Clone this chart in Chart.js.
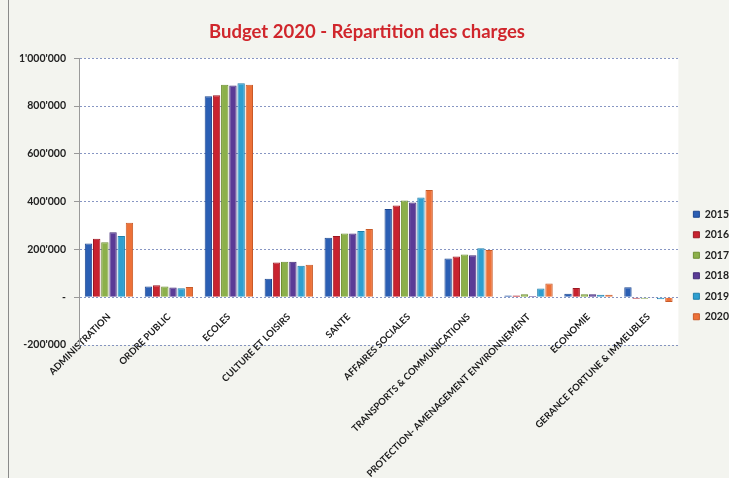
<!DOCTYPE html>
<html lang="fr">
<head>
<meta charset="utf-8">
<title>Budget 2020 - Répartition des charges</title>
<script src="https://cdn.jsdelivr.net/npm/chart.js@4.4.1/dist/chart.umd.min.js"></script>
<style>
    html, body {
        margin: 0;
        padding: 0;
        background: #f3f4ef;
    }
    .chart-container {
        position: relative;
        width: 729px;
        height: 478px;
    }
    .frame {
        position: absolute;
        left: 8px;
        top: 0;
        width: 1px;
        height: 478px;
        background: #8a8a8a;
    }
</style>
</head>
<body>
<div class="chart-container">
    <div class="frame"></div>
    <canvas id="budgetChart" width="729" height="478"></canvas>
</div>
<script>
// ========================================
// Données
// ========================================

const categories = [
    'ADMINISTRATION',
    'ORDRE PUBLIC',
    'ECOLES',
    'CULTURE ET LOISIRS',
    'SANTE',
    'AFFAIRES SOCIALES',
    'TRANSPORTS & COMMUNICATIONS',
    'PROTECTION- AMENAGEMENT ENVIRONNEMENT',
    'ECONOMIE',
    'GERANCE FORTUNE & IMMEUBLES'
];

const years = ['2015', '2016', '2017', '2018', '2019', '2020'];

const values2015 = [225000, 45000, 841000, 77000, 249000, 369000, 162000, 7000, 14000, 42000];
const values2016 = [245000, 50000, 845000, 145000, 256000, 384000, 170000, 7000, 38000, -6000];
const values2017 = [230000, 45000, 889000, 148000, 267000, 405000, 179000, 12000, 12000, -6000];
const values2018 = [272000, 41000, 886000, 148000, 267000, 396000, 176000, 5000, 12000, -3000];
const values2019 = [256000, 37000, 895000, 132000, 277000, 417000, 205000, 36000, 10000, -9000];
const values2020 = [312000, 43000, 889000, 136000, 285000, 449000, 198000, 57000, 10000, -20000];

const yTicks = [-200000, 0, 200000, 400000, 600000, 800000, 1000000];

const colors = ['#2b5fb4', '#c8232f', '#8cb04a', '#5a3b96', '#2e9fd0', '#ed7138'];
const borderColors = ['#1d4790', '#9c1822', '#6e8f32', '#432a77', '#1f7fab', '#c85a28'];

// ========================================
// Helpers
// ========================================

/**
 * 1000000 -> 1'000'000, 0 -> '-'
 */
function formatSwiss(value) {
    if (value === 0) return '-';
    const sign = value < 0 ? '-' : '';
    return sign + Math.abs(value).toString().replace(/\B(?=(\d{3})+(?!\d))/g, "'");
}

// fond blanc de la zone de tracé
const plotBackground = {
    id: 'plotBackground',
    beforeDraw(chart) {
        const { ctx, chartArea } = chart;
        ctx.save();
        ctx.fillStyle = '#ffffff';
        ctx.fillRect(chartArea.left, chartArea.top, chartArea.right - chartArea.left, chartArea.bottom - chartArea.top);
        ctx.restore();
    }
};

// décale la légende vers le bas comme dans l'original
const legendShift = {
    id: 'legendShift',
    afterLayout(chart) {
        const legend = chart.legend;
        if (!legend) return;
        legend.top += 93;
        legend.bottom += 93;
        legend.left += 5;
        legend.right += 5;
    }
};

// ========================================
// Graphique
// ========================================

const allValues = [values2015, values2016, values2017, values2018, values2019, values2020];

const datasets = years.map((year, i) => ({
    label: year,
    data: allValues[i],
    backgroundColor: colors[i],
    borderColor: borderColors[i],
    borderWidth: 1,
    barPercentage: 0.9,
    categoryPercentage: 0.82
}));

const ctx = document.getElementById('budgetChart').getContext('2d');

new Chart(ctx, {
    type: 'bar',
    data: {
        labels: categories,
        datasets: datasets
    },
    options: {
        responsive: false,
        animation: false,
        layout: {
            padding: { left: 0, right: -5, top: 0, bottom: 133 }
        },
        plugins: {
            title: {
                display: true,
                text: 'Budget 2020 - Répartition des charges',
                color: '#d0262c',
                font: { family: 'Lato', size: 18.5, weight: 'bold' },
                padding: { top: 21, bottom: 15 }
            },
            legend: {
                display: true,
                position: 'right',
                align: 'center',
                labels: {
                    boxWidth: 6,
                    boxHeight: 6,
                    padding: 10,
                    color: '#222',
                    font: { family: 'Lato', size: 10.5, weight: 'bold' }
                }
            },
            tooltip: { enabled: false }
        },
        scales: {
            x: {
                position: { y: 0 },
                grid: { display: false },
                border: { display: false },
                ticks: {
                    autoSkip: false,
                    minRotation: 45,
                    maxRotation: 45,
                    padding: 6,
                    color: '#1a1a1a',
                    font: { family: 'Lato', size: 9.5, weight: 'bold' }
                }
            },
            y: {
                min: -200000,
                max: 1000000,
                afterFit(scale) {
                    scale.width = 79;
                },
                afterBuildTicks(scale) {
                    scale.ticks = yTicks.map(v => ({ value: v }));
                },
                grid: {
                    color: 'rgba(95, 115, 175, 0.75)',
                    lineWidth: 1,
                    tickLength: 5,
                    tickColor: '#999',
                },
                border: {
                    display: true,
                    color: '#9a9a9a',
                    dash: [2, 2]
                },
                ticks: {
                    padding: 8,
                    color: '#222',
                    font: { family: 'Lato', size: 10.5, weight: 'bold' },
                    callback: function(value) {
                        return formatSwiss(value);
                    }
                }
            }
        }
    },
    plugins: [plotBackground, legendShift]
});
</script>
</body>
</html>
